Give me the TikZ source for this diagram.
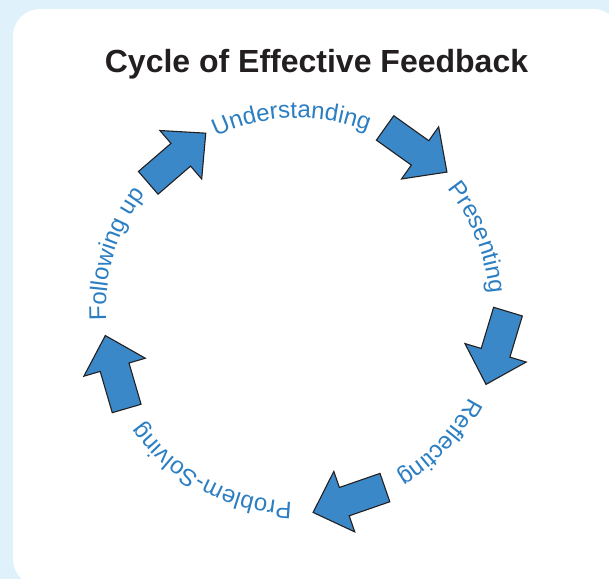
\documentclass[tikz,border=0pt]{standalone}
\usepackage{fontspec}
\setmainfont{Liberation Sans}
\usetikzlibrary{decorations.text}
\definecolor{pagebg}{HTML}{DFF1FB}
\definecolor{cycletext}{HTML}{2B7EC2}
\definecolor{cyclearrow}{HTML}{3A88C8}
\definecolor{titleink}{HTML}{231F20}
\newcommand{\cyclefont}{\fontsize{24}{28}\selectfont\color{cycletext}}
\tikzset{
  cyclearc/.style={decorate, decoration={text along path, text align=center, text={|\cyclefont|#1}}},
  fbarrow/.pic={\draw[fill=cyclearrow, draw=titleink, line width=1.1pt, line join=miter]
    (-38,-15) -- (5,-15) -- (5,-32) -- (38,0) -- (5,32) -- (5,15) -- (-38,15) -- cycle;}
}
\begin{document}
\begin{tikzpicture}[x=1pt,y=1pt]
        % background and card
        \useasboundingbox (0,0) rectangle (609,-579);
        \fill[pagebg] (0,0) rectangle (609,-579);
        \fill[white, rounded corners=27pt] (13,-9) rectangle (620,-586);

        % title
        \node[anchor=base, font=\bfseries\fontsize{32}{38}\selectfont, text=titleink] (title) at (316.5,-72) {Cycle of Effective Feedback};

        % centre of the cycle
        \coordinate (C) at (298,-310);

        % labels
        \path[cyclearc=Understanding] (C) ++(122:192) arc[start angle=122, end angle=62, radius=192];
        \path[cyclearc=Presenting] (C) ++(52:192) arc[start angle=52, end angle=-8, radius=192];
        \path[cyclearc=Reflecting] (C) ++(-13:192) arc[start angle=-13, end angle=-73, radius=192];
        \path[cyclearc=Problem-Solving] (C) ++(-88:192) arc[start angle=-88, end angle=-148, radius=192];
        \path[cyclearc=Following up] (C) ++(193:192) arc[start angle=193, end angle=133, radius=192];

        % arrows
        \pic[rotate=40.8] at (177,-158) {fbarrow};
        \pic[rotate=-35.5] at (416,-150) {fbarrow};
        \pic[rotate=-106.8] at (497,-348) {fbarrow};
        \pic[rotate=-160.9] at (349,-500) {fbarrow};
        \pic[rotate=106.3] at (116,-372) {fbarrow};
    \end{tikzpicture}
\end{document}
